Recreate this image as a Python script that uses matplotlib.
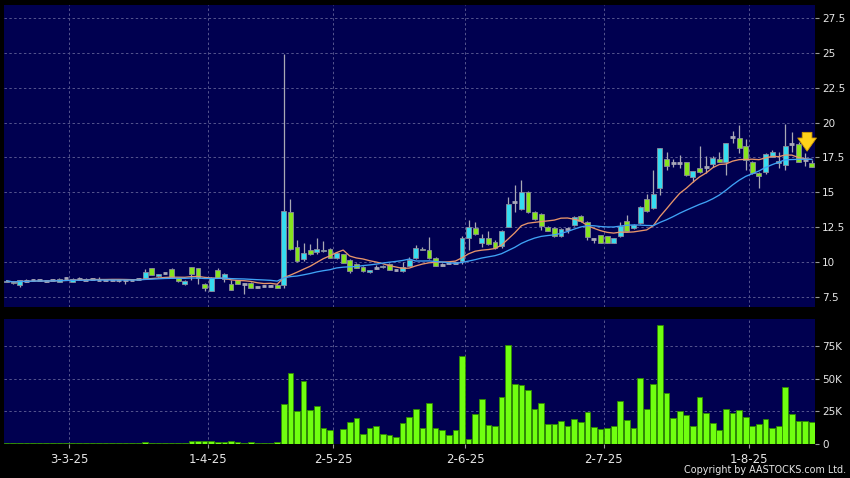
import matplotlib
matplotlib.use("Agg")
import matplotlib.pyplot as plt
import numpy as np
import pandas as pd

# ---------------- data ----------------
holidays = ["2025-04-04", "2025-04-18", "2025-04-21", "2025-05-01", "2025-05-05", "2025-07-01"]
dates = pd.bdate_range("2025-02-17", "2025-08-14", freq="C", holidays=holidays)

open_ = [8.60, 8.58, 8.35, 8.65, 8.70, 8.70, 8.62, 8.70, 8.58, 8.85,
         8.58, 8.78, 8.75, 8.78, 8.75, 8.70, 8.70, 8.70, 8.70, 8.72,
         8.80, 8.84, 9.55, 9.00, 9.20, 9.50, 8.84, 8.41, 9.62, 9.56,
         8.45, 7.95, 9.40, 8.80, 8.45, 8.70, 8.45, 8.50, 8.20, 8.30,
         8.30, 8.36, 8.36, 13.57, 11.10, 10.20, 10.87, 10.70, 10.78, 10.94,
         10.32, 10.56, 10.15, 9.87, 9.65, 9.30, 9.60, 9.65, 9.84, 9.40,
         9.34, 9.74, 10.27, 10.96, 10.87, 10.32, 9.80, 9.90, 9.96, 10.10,
         11.70, 12.42, 11.39, 11.75, 11.47, 11.16, 12.54, 14.30, 13.79, 15.05,
         13.57, 13.45, 12.54, 12.47, 11.87, 12.37, 12.66, 13.33, 12.90, 11.64,
         11.92, 11.85, 11.39, 11.87, 12.97, 12.42, 12.78, 14.53, 13.85, 15.29,
         17.39, 17.08, 17.13, 17.16, 16.12, 16.72, 16.80, 17.03, 17.40, 17.20,
         18.95, 18.88, 18.35, 17.16, 16.37, 16.44, 17.56, 17.08, 16.96, 18.47,
         18.47, 17.32, 17.08]

high = [8.70, 8.62, 8.72, 8.80, 8.80, 8.82, 8.70, 8.76, 8.85, 8.95,
        8.85, 8.95, 8.85, 8.85, 8.90, 8.78, 8.75, 8.75, 8.75, 8.78,
        8.85, 9.50, 9.60, 9.18, 9.25, 9.55, 8.88, 8.68, 9.65, 9.60,
        8.50, 8.90, 9.60, 9.20, 8.75, 8.75, 8.50, 8.55, 8.25, 8.35,
        8.35, 8.40, 24.92, 14.50, 11.60, 11.40, 11.30, 11.70, 11.50, 11.00,
        10.70, 10.60, 10.20, 9.95, 9.70, 9.45, 9.80, 9.80, 9.90, 9.45,
        10.00, 10.40, 11.20, 11.10, 11.82, 10.40, 9.90, 9.95, 10.00, 11.90,
        13.00, 12.90, 12.00, 12.20, 11.55, 12.30, 14.70, 15.50, 15.90, 15.10,
        13.65, 13.50, 12.60, 12.55, 12.45, 12.55, 13.30, 13.40, 12.95, 11.70,
        11.95, 11.90, 11.75, 12.90, 13.40, 12.70, 14.00, 14.90, 16.60, 18.20,
        17.90, 17.40, 17.70, 17.20, 16.55, 18.30, 17.60, 17.60, 17.90, 18.55,
        19.40, 19.80, 18.80, 17.25, 16.45, 17.80, 18.00, 17.92, 19.90, 19.30,
        18.60, 17.80, 17.35]

low = [8.55, 8.45, 8.22, 8.60, 8.65, 8.65, 8.55, 8.65, 8.55, 8.80,
       8.55, 8.70, 8.70, 8.72, 8.70, 8.65, 8.62, 8.55, 8.45, 8.68,
       8.75, 8.80, 9.05, 8.95, 9.15, 8.85, 8.60, 8.38, 8.75, 8.41,
       7.95, 7.90, 8.85, 8.60, 8.00, 8.40, 7.70, 8.15, 8.15, 8.25,
       8.25, 8.12, 8.12, 10.85, 10.00, 10.10, 10.50, 10.60, 10.70, 10.28,
       10.20, 9.90, 9.25, 9.55, 9.30, 9.20, 9.50, 9.60, 9.40, 9.35,
       9.30, 9.70, 10.20, 10.85, 10.25, 9.70, 9.75, 9.85, 9.90, 9.85,
       10.90, 11.95, 11.10, 11.25, 10.95, 11.00, 12.50, 13.60, 13.70, 13.50,
       13.05, 12.30, 12.20, 11.80, 11.80, 12.10, 12.60, 12.90, 11.60, 11.35,
       11.35, 11.35, 11.35, 11.80, 12.20, 12.35, 12.70, 13.60, 13.80, 14.80,
       16.60, 16.80, 16.72, 16.20, 15.77, 16.40, 16.37, 16.85, 17.15, 16.25,
       18.52, 17.80, 16.60, 16.30, 15.29, 16.30, 17.50, 16.72, 16.60, 17.92,
       17.20, 16.90, 16.80]

close = [8.65, 8.50, 8.68, 8.65, 8.70, 8.70, 8.62, 8.70, 8.78, 8.85,
         8.82, 8.78, 8.75, 8.78, 8.75, 8.70, 8.70, 8.70, 8.70, 8.72,
         8.80, 9.27, 9.08, 9.13, 9.20, 8.90, 8.65, 8.65, 9.17, 8.88,
         8.12, 8.85, 8.88, 9.17, 8.02, 8.45, 8.45, 8.17, 8.20, 8.30,
         8.30, 8.17, 13.69, 10.92, 10.08, 10.63, 10.56, 10.92, 10.90, 10.32,
         10.63, 9.96, 9.39, 9.58, 9.34, 9.40, 9.60, 9.75, 9.43, 9.40,
         9.63, 10.15, 10.99, 10.87, 10.27, 9.74, 9.80, 9.90, 9.96, 11.75,
         12.50, 12.02, 11.75, 11.30, 10.99, 12.25, 14.14, 14.30, 15.05, 13.57,
         13.09, 12.59, 12.25, 11.87, 12.37, 12.37, 13.25, 12.97, 11.82, 11.64,
         11.39, 11.39, 11.70, 12.59, 12.25, 12.64, 13.97, 13.69, 14.88, 18.16,
         16.91, 17.08, 17.13, 16.25, 16.51, 16.48, 16.80, 17.44, 17.20, 18.52,
         18.95, 18.16, 17.32, 16.37, 16.17, 17.73, 17.92, 17.25, 18.35, 18.47,
         17.20, 17.32, 16.80]

volume = [300, 200, 400, 200, 200, 300, 200, 200, 300, 400,
          300, 200, 200, 200, 300, 200, 200, 300, 200, 200,
          300, 1000, 300, 300, 200, 400, 300, 300, 2300, 1900,
          1600, 1900, 1200, 1200, 1900, 800, 600, 1500, 300, 600,
          300, 800, 30200, 54200, 25000, 48200, 25500, 29100, 11800, 10800,
          0, 11100, 16500, 19600, 7000, 11800, 13400, 7400, 6400, 4900,
          15700, 20400, 26500, 11600, 31000, 12100, 10800, 6200, 10800, 67600,
          3300, 22900, 34500, 14400, 13600, 35600, 75900, 45900, 45100, 41300,
          26500, 31200, 14700, 14900, 17500, 13200, 18800, 16300, 24000, 12400,
          11000, 12100, 13400, 33000, 18000, 12100, 50500, 26500, 45900, 91300,
          38900, 19600, 25200, 22400, 13200, 36100, 23700, 15500, 10800, 26500,
          23600, 25900, 20600, 13600, 15000, 18600, 12100, 13400, 43800, 22900,
          17300, 17700, 16900]

price_ticks = [7.5, 10, 12.5, 15, 17.5, 20, 22.5, 25, 27.5]
price_labels = ["7.5", "10", "12.5", "15", "17.5", "20", "22.5", "25", "27.5"]
vol_ticks = [0, 25000, 50000, 75000]
vol_labels = ["0", "25K", "50K", "75K"]

# ---------------- styling ----------------
BG = "#000050"
GRID = "#55558e"
UP = "#35dcf0"
DOWN = "#86e41e"
WICK = "#a8a8b4"
EDGE = "#8c8c9c"
TXT = "#e6e6e6"

df = pd.DataFrame({"o": open_, "h": high, "l": low, "c": close, "v": volume}, index=dates)
x = np.arange(len(df))
ma10 = df["c"].rolling(10, min_periods=1).mean()
ma20 = df["c"].rolling(20, min_periods=1).mean()

# month first-day positions
month_idx = [i for i in range(1, len(dates)) if dates[i].month != dates[i - 1].month]
month_pos = [i - 0.5 for i in month_idx]
month_lab = [f"{dates[i].day}-{dates[i].month}-{dates[i]:%y}" for i in month_idx]

fig = plt.figure(figsize=(8.5, 4.78), dpi=100, facecolor="black")
ax1 = fig.add_axes([4 / 850, 1 - 307 / 478, 811 / 850, 302 / 478])
ax2 = fig.add_axes([4 / 850, 1 - 443.5 / 478, 811 / 850, 124.5 / 478], sharex=ax1)

for ax in (ax1, ax2):
    ax.set_facecolor(BG)
    for s in ax.spines.values():
        s.set_visible(False)
    ax.yaxis.tick_right()
    ax.tick_params(axis="y", direction="out", length=3, color="#9a9a9a",
                   labelcolor=TXT, labelsize=7.5, pad=2)
    for p in month_pos:
        ax.axvline(p, color=GRID, lw=0.7, ls=(0, (2.5, 2.5)), zorder=0.5)

ax1.set_xlim(-0.4, 122.5)

# price panel
ax1.set_ylim(6.78, 28.43)
ax1.set_yticks(price_ticks)
ax1.set_yticklabels(price_labels)
for t in price_ticks:
    ax1.axhline(t, color=GRID, lw=0.7, ls=(0, (2.5, 2.5)), zorder=0.5)
ax1.tick_params(axis="x", which="both", bottom=False, labelbottom=False)

o = df["o"].values
c = df["c"].values
ax1.vlines(x, df["l"].values, df["h"].values, color=WICK, lw=0.9, zorder=2)
up = c > o
dn = c < o
eq = c == o
bw = 0.74
ax1.bar(x[up], (c - o)[up], bottom=o[up], width=bw, color=UP, edgecolor=EDGE, lw=0.6, zorder=3)
ax1.bar(x[dn], (o - c)[dn], bottom=c[dn], width=bw, color=DOWN, edgecolor=EDGE, lw=0.6, zorder=3)
ax1.hlines(c[eq], x[eq] - bw / 2, x[eq] + bw / 2, color="#a8a8b8", lw=2.0, zorder=3)

ax1.plot(x, ma10.values, color="#e8956a", lw=0.95, zorder=4)
ax1.plot(x, ma20.values, color="#3fa2f5", lw=0.95, zorder=4)

# yellow marker arrow
ax1.annotate("", xy=(121.3, 17.75), xytext=(121.3, 19.5),
             arrowprops=dict(arrowstyle="simple,head_width=1.35,head_length=0.95,tail_width=0.7",
                             fc="#ffd21a", ec="#d09a00", lw=0.6), zorder=5)

# volume panel
ax2.set_ylim(0, 96200)
ax2.set_yticks(vol_ticks)
ax2.set_yticklabels(vol_labels)
for t in vol_ticks[1:]:
    ax2.axhline(t, color=GRID, lw=0.7, ls=(0, (2.5, 2.5)), zorder=0.5)
ax2.bar(x, df["v"].values, width=0.86, color="#70ff10", edgecolor="#2f8a00", lw=0.6, zorder=3)
ax2.set_xticks(month_pos)
ax2.set_xticklabels(month_lab)
ax2.tick_params(axis="x", direction="out", length=3, color="#9a9a9a",
                labelcolor=TXT, labelsize=8.5, pad=4)

fig.text(0.995, 0.006, "Copyright by AASTOCKS.com Ltd.", ha="right", va="bottom",
         color=TXT, fontsize=6.9)

fig.savefig("out.png", dpi=100, facecolor="black")
